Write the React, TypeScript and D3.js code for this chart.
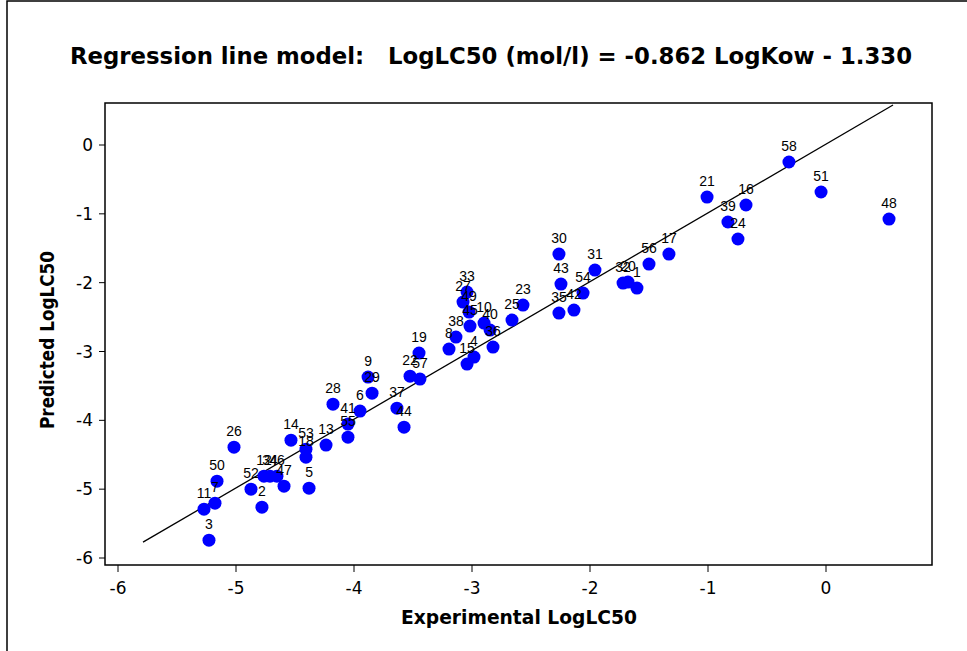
import React from "react";
import * as d3 from "d3";

const ids = [1,2,3,4,5,6,7,8,9,10,11,12,13,14,15,16,17,18,19,20,21,22,23,24,25,26,27,28,29,30,31,32,33,34,35,36,37,38,39,40,41,42,43,44,45,46,47,48,49,50,51,52,53,54,55,56,57,58];
const experimental = [-1.602,-4.780,-5.229,-2.983,-4.381,-3.949,-5.178,-3.195,-3.881,-2.898,-5.271,-4.763,-4.237,-4.534,-3.042,-0.678,-1.331,-4.407,-3.449,-1.678,-1.008,-3.525,-2.568,-0.746,-2.661,-5.017,-3.076,-4.178,-3.847,-2.263,-1.958,-1.720,-3.042,-4.712,-2.263,-2.822,-3.636,-3.136,-0.831,-2.847,-4.051,-2.136,-2.246,-3.576,-3.017,-4.653,-4.593,0.534,-3.025,-5.161,-0.042,-4.873,-4.407,-2.059,-4.051,-1.500,-3.441,-0.314];
const predicted = [-2.078,-5.262,-5.741,-3.081,-4.985,-3.866,-5.203,-2.965,-3.372,-2.587,-5.291,-4.811,-4.360,-4.288,-3.183,-0.872,-1.584,-4.535,-3.023,-1.991,-0.756,-3.358,-2.326,-1.366,-2.544,-4.390,-2.282,-3.765,-3.605,-1.584,-1.817,-2.006,-2.137,-4.811,-2.442,-2.936,-3.823,-2.791,-1.119,-2.689,-4.055,-2.398,-2.020,-4.099,-2.631,-4.811,-4.956,-1.076,-2.427,-4.884,-0.683,-5.000,-4.419,-2.151,-4.244,-1.730,-3.401,-0.247];
const lineX = [-5.788, 0.568];
const lineY = [-5.770, 0.581];
const xTicks = [-6,-5,-4,-3,-2,-1,0];
const yTicks = [0,-1,-2,-3,-4,-5,-6];

const title = "Regression line model:   LogLC50 (mol/l) = -0.862 LogKow - 1.330";
const xTitle = "Experimental LogLC50";
const yTitle = "Predicted LogLC50";

export default function App() {
  const W = 967, H = 651;
  const left = 105, right = 932, top = 103, bottom = 565;
  const x = d3.scaleLinear().domain([-6, 0]).range([118, 826]);
  const y = d3.scaleLinear().domain([0, -6]).range([145, 558]);
  const linePath = d3.line<number>()((lineX.map((v, i) => [x(v), y(lineY[i])]) as any));
  return (
    <svg width={W} height={H} style={{ position: "absolute", left: 0, top: 0, background: "#fff" }}>
      <rect x={0} y={0} width={W} height={H} fill="#fff" />
      <rect x={7} y={1} width={1000} height={700} fill="none" stroke="#000" strokeWidth={1.5} />
      <text x={491} y={64} textAnchor="middle" fontFamily="DejaVu Sans" fontWeight="bold" fontSize={23}
        textLength={842} lengthAdjust="spacingAndGlyphs" style={{ whiteSpace: "pre" }} xmlSpace="preserve">{title}</text>
      <rect x={left} y={top} width={right - left} height={bottom - top} fill="none" stroke="#000" strokeWidth={1.5} />
      {xTicks.map(t => (
        <g key={"x" + t}>
          <line x1={x(t)} x2={x(t)} y1={bottom} y2={bottom + 7} stroke="#000" strokeWidth={1} />
          <text x={x(t)} y={594} textAnchor="middle" fontFamily="DejaVu Sans" fontSize={17}>{t}</text>
        </g>
      ))}
      {yTicks.map(t => (
        <g key={"y" + t}>
          <line x1={left - 6} x2={left} y1={y(t)} y2={y(t)} stroke="#000" strokeWidth={1} />
          <text x={93} y={y(t) + 6} textAnchor="end" fontFamily="DejaVu Sans" fontSize={17}>{t}</text>
        </g>
      ))}
      <text x={519} y={624} textAnchor="middle" fontFamily="DejaVu Sans" fontWeight="bold" fontSize={19}
        textLength={236} lengthAdjust="spacingAndGlyphs">{xTitle}</text>
      <text transform="translate(54,340) rotate(-90)" textAnchor="middle" fontFamily="DejaVu Sans" fontWeight="bold" fontSize={19}
        textLength={178} lengthAdjust="spacingAndGlyphs">{yTitle}</text>
      <path d={linePath || ""} stroke="#000" strokeWidth={1.3} fill="none" />
      {ids.map((id, i) => (
        <circle key={"c" + id} cx={x(experimental[i])} cy={y(predicted[i])} r={6.5} fill="#0000ff" />
      ))}
      {ids.map((id, i) => (
        <text key={"t" + id} x={x(experimental[i])} y={y(predicted[i]) - 11} textAnchor="middle"
          fontFamily="Liberation Sans" fontSize={14} fill="#000">{id}</text>
      ))}
    </svg>
  );
}
